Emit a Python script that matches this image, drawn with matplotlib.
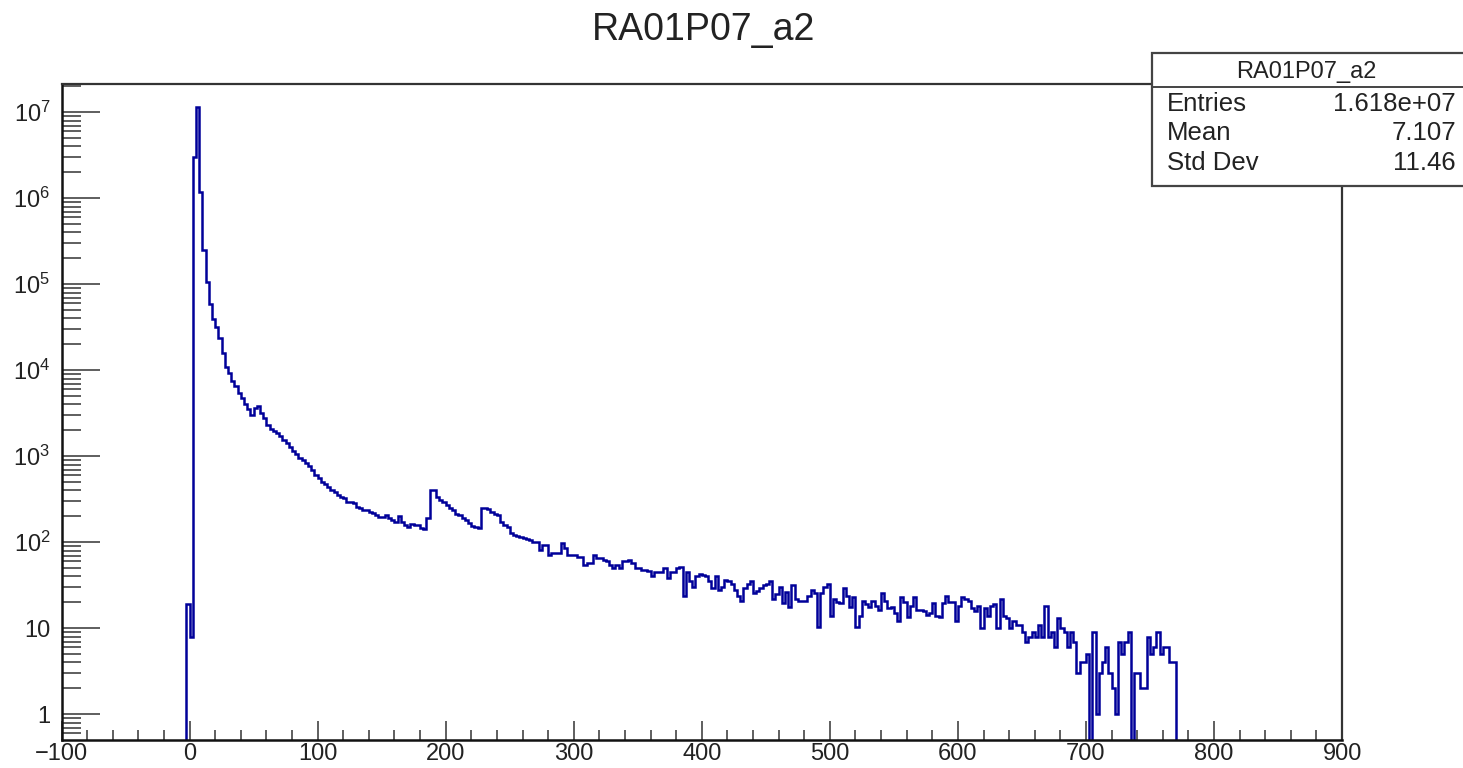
import numpy as np
import matplotlib
matplotlib.use("Agg")
import matplotlib.pyplot as plt
from matplotlib.patches import Rectangle
from matplotlib.lines import Line2D
from matplotlib.ticker import FixedLocator, FuncFormatter, MultipleLocator, NullFormatter

plt.rcParams['font.family'] = ['Liberation Sans', 'DejaVu Sans']
plt.rcParams['mathtext.fontset'] = 'custom'
plt.rcParams['mathtext.rm'] = 'Liberation Sans'
plt.rcParams['mathtext.it'] = 'Liberation Sans:italic'

# histogram RA01P07_a2 : 400 bins from -100 to 900
x_min, x_max, n_bins = -100.0, 900.0, 400
first_filled = -2.5   # low edge of the first non empty bin

# peak region (-2.5 .. 100)
peak_counts = [19, 8, 3.0e6, 1.16e7, 1.19e6, 2.5e5, 1.07e5, 5.9e4, 3.9e4, 3.2e4,
               2.4e4, 1.6e4, 1.1e4, 9.2e3, 7.4e3, 6.5e3, 5.4e3, 4.7e3, 4.1e3, 3.5e3,
               3.0e3, 3.6e3, 3.8e3, 3.2e3, 2.8e3, 2.3e3, 2.1e3, 1.95e3, 1.87e3, 1.7e3,
               1.55e3, 1.41e3, 1.28e3, 1.15e3, 1.05e3, 950, 900, 830, 760, 692, 600]

# 100 .. 357.5 (two bumps near 190 and 230)
mid_counts = [555, 507, 470, 444, 400, 388, 355, 340, 324, 297,
              297, 284, 260, 248, 240, 238, 225, 217, 208, 199,
              199, 205, 190, 180, 174, 200, 174, 160, 152, 165,
              158, 160, 146, 143, 190, 405, 400, 339, 311, 290,
              271, 248, 238, 215, 208, 190, 180, 166, 155, 150,
              146, 248, 250, 245, 227, 215, 208, 174, 160, 152,
              127, 122, 119, 116, 111, 108, 106, 102, 102, 81,
              93, 93, 71, 74, 74, 74, 97, 85, 71, 71,
              71, 68, 68, 54, 57, 57, 71, 65, 65, 62,
              60, 55, 50, 54, 50, 60, 60, 62, 58, 50,
              50, 48, 48]

# 357.5 .. 595
flat_counts = [46, 40, 45, 45, 45, 50, 38, 45, 45, 50,
               52, 24, 45, 35, 30, 40, 43, 42, 40, 35,
               29, 40, 28, 30, 36, 35, 33, 28, 24, 21,
               29, 33, 35, 25.5, 27, 29, 32, 33, 35, 22,
               25, 30.5, 19.5, 26.5, 17.8, 32, 22, 21, 21, 21,
               24, 28, 26, 10.4, 25.5, 30, 33, 14, 22, 20,
               19.5, 29, 24, 17.8, 23, 10.4, 14, 21, 19, 17.8,
               20.5, 18, 16.5, 25.5, 21, 17, 17.8, 15, 12, 23,
               20, 13.6, 18, 23, 16.5, 16.5, 16, 14.3, 15, 19.5,
               14, 13.6, 19.5, 24, 20]

# 595 .. 770
tail_counts = [20, 12, 18, 23, 22, 21, 17, 16, 18, 10,
               17, 14, 18, 19, 10, 22, 14, 13, 10, 12,
               11, 11, 9, 7, 8, 9, 8, 11, 8, 18,
               8, 9, 6, 13, 10, 9, 6, 9, 7, 3,
               4, 4, 5, 0, 9, 1, 3, 4, 6, 3,
               2, 1, 7, 5, 7, 9, 0, 3, 3, 2,
               2, 8, 5, 6, 9, 5, 6, 6, 4, 4]

hist_title = "RA01P07_a2"
stat_names = ["Entries", "Mean", "Std Dev"]
stat_values = ["1.618e+07", "7.107", "11.46"]
y_decades = [0, 1, 2, 3, 4, 5, 6, 7]

edges = np.linspace(x_min, x_max, n_bins + 1)
filled = np.array(peak_counts + mid_counts + flat_counts + tail_counts, dtype=float)
counts = np.zeros(n_bins)
start = int(round((first_filled - x_min) / (edges[1] - edges[0])))
counts[start:start + len(filled)] = filled

fig = plt.figure(figsize=(14.63, 7.68), dpi=100)
ax = fig.add_axes([0.04204, 0.03646, 0.8753, 0.8542])

ax.set_yscale('log', nonpositive='clip')
ax.stairs(counts, edges, color='#000099', linewidth=1.8, baseline=None)
ax.set_xlim(x_min, x_max)
ax.set_ylim(0.502, 2.13e7)


def root_log_label(v, pos):
    e = int(round(np.log10(v)))
    if e == 0:
        return "1"
    if e == 1:
        return "10"
    return r"$10^{%d}$" % e


major_y = [10.0 ** e for e in y_decades]
minor_y = [m * 10.0 ** e for e in [-1] + y_decades for m in range(2, 10)]
minor_y = [v for v in minor_y if 0.502 < v < 2.13e7]
ax.yaxis.set_major_locator(FixedLocator(major_y))
ax.yaxis.set_minor_locator(FixedLocator(minor_y))
ax.yaxis.set_major_formatter(FuncFormatter(root_log_label))
ax.yaxis.set_minor_formatter(NullFormatter())
ax.xaxis.set_major_locator(MultipleLocator(100))
ax.xaxis.set_minor_locator(MultipleLocator(20))

ax.tick_params(axis='y', which='major', direction='in', length=27, width=1.1,
               labelsize=17, pad=8, colors='#333333', labelcolor='#222222')
ax.tick_params(axis='y', which='minor', direction='in', length=14, width=1.1, colors='#333333')
ax.tick_params(axis='x', which='major', direction='in', length=14, width=1.1,
               labelsize=17, pad=2, colors='#333333', labelcolor='#222222')
ax.tick_params(axis='x', which='minor', direction='in', length=7, width=1.1, colors='#333333')

for side in ['left', 'bottom']:
    ax.spines[side].set_linewidth(1.8)
    ax.spines[side].set_color('#111111')
for side in ['top', 'right']:
    ax.spines[side].set_linewidth(1.6)
    ax.spines[side].set_color('#333333')

fig.text(0.4812, 0.961, hist_title, ha='center', va='center', fontsize=27, color='#222222')

# stats box
box_l, box_b, box_t = 0.7872, 0.7582, 0.9306
fig.add_artist(Rectangle((box_l, box_b), 1.05 - box_l, box_t - box_b, transform=fig.transFigure,
                         facecolor='white', edgecolor='#444444', linewidth=1.6, zorder=5))
fig.add_artist(Line2D([box_l, 1.0], [0.8871, 0.8871], transform=fig.transFigure,
                      color='#444444', linewidth=1.4, zorder=6))
fig.text(0.8927, 0.9063, hist_title, ha='center', va='center', fontsize=17, color='#222222', zorder=7)
row_y = [0.865, 0.8264, 0.7874]
for name, val, y in zip(stat_names, stat_values, row_y):
    fig.text(0.7977, y, name, ha='left', va='center', fontsize=18.5, color='#222222', zorder=7)
    fig.text(0.9952, y, val, ha='right', va='center', fontsize=18.5, color='#222222', zorder=7)

fig.savefig("out.png", dpi=100)
